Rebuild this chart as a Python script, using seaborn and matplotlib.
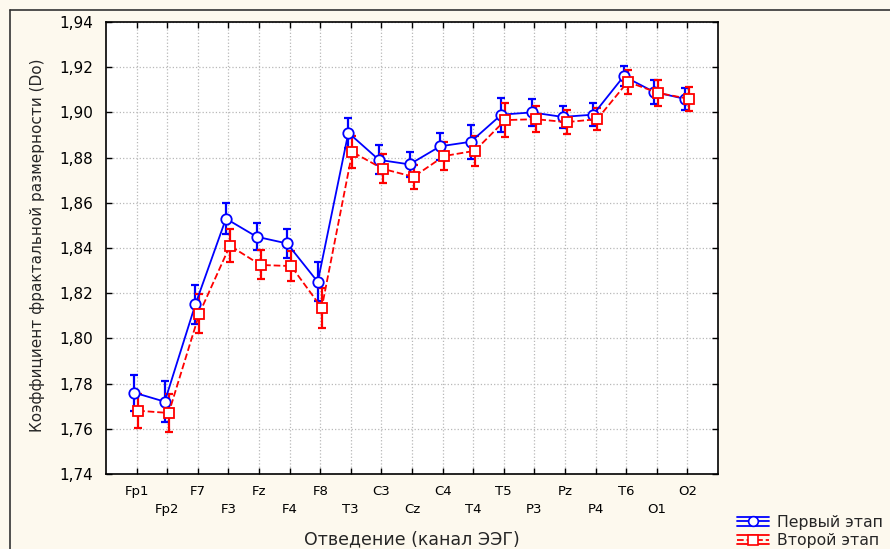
import numpy as np
import pandas as pd
import matplotlib
matplotlib.use("Agg")
import matplotlib.pyplot as plt
import seaborn as sns
from matplotlib.lines import Line2D
from matplotlib.legend_handler import HandlerBase

channels = ["Fp1", "Fp2", "F7", "F3", "Fz", "F4", "F8", "T3", "C3", "Cz",
            "C4", "T4", "T5", "P3", "Pz", "P4", "T6", "O1", "O2"]
stage1 = [1.776, 1.772, 1.815, 1.853, 1.845, 1.842, 1.825, 1.891, 1.879, 1.877,
          1.885, 1.887, 1.899, 1.900, 1.898, 1.899, 1.916, 1.909, 1.906]
stage1_err = [0.008, 0.009, 0.0085, 0.007, 0.006, 0.0066, 0.0086, 0.0066, 0.0064, 0.0055,
              0.006, 0.0075, 0.0075, 0.0058, 0.005, 0.005, 0.0045, 0.0055, 0.005]
stage2 = [1.768, 1.767, 1.811, 1.841, 1.8325, 1.832, 1.8135, 1.8825, 1.875, 1.8715,
          1.8807, 1.883, 1.8966, 1.897, 1.8957, 1.897, 1.9135, 1.9086, 1.906]
stage2_err = [0.0075, 0.0084, 0.0086, 0.0072, 0.0064, 0.0066, 0.0088, 0.007, 0.0064, 0.0054,
              0.0064, 0.0066, 0.0075, 0.0058, 0.0053, 0.005, 0.0053, 0.0057, 0.0053]
series_names = ["Первый этап", "Второй этап"]

sns.set_style("white")
plt.rcParams["font.family"] = ["DejaVu Sans"]

bg = "#fdf9ee"
fig = plt.figure(figsize=(8.9, 5.49), dpi=100, facecolor=bg)
ax = fig.add_axes([106/890, 1-474/549, (718-106)/890, (474-22)/549])
ax.set_facecolor("white")

idx = np.arange(len(channels))
df = pd.DataFrame({
    "x": np.concatenate([idx - 0.08, idx + 0.05]),
    "y": stage1 + stage2,
    "err": stage1_err + stage2_err,
    "series": [series_names[0]] * len(channels) + [series_names[1]] * len(channels),
})

styles = {
    series_names[0]: dict(color="#0000ff", marker="o", ls="-", ms=7.5),
    series_names[1]: dict(color="#ff0000", marker="s", ls="--", ms=7.5),
}


class ErrHandler(HandlerBase):
    def __init__(self, st):
        super().__init__()
        self.st = st

    def create_artists(self, legend, orig_handle, xdescent, ydescent, width, height,
                       fontsize, trans):
        c = self.st["color"]
        ym = height / 2 - ydescent
        dy = height * 0.42
        x0, x1 = -xdescent, width - xdescent
        xc = (x0 + x1) / 2
        arts = [
            Line2D([x0, x1], [ym + dy, ym + dy], color=c, lw=1.3),
            Line2D([x0, x1], [ym - dy, ym - dy], color=c, lw=1.3),
            Line2D([x0, x1], [ym, ym], color=c, lw=1.3, ls=self.st["ls"]),
            Line2D([xc, xc], [ym - dy, ym + dy], color=c, lw=1.3),
            Line2D([xc], [ym], marker=self.st["marker"], ms=7, mfc="white", mec=c,
                   mew=1.2, ls="none"),
        ]
        for a in arts:
            a.set_transform(trans)
        return arts


handles = []
for name in series_names:
    sub = df[df["series"] == name]
    st = styles[name]
    ax.errorbar(sub["x"], sub["y"], yerr=sub["err"], fmt="none",
                ecolor=st["color"], elinewidth=1.6, capsize=3, capthick=1.6, zorder=3)
    sns.lineplot(data=sub, x="x", y="y", ax=ax, color=st["color"], linestyle=st["ls"],
                 linewidth=1.3, marker=st["marker"], markersize=st["ms"],
                 markerfacecolor="white", markeredgecolor=st["color"], markeredgewidth=1.3,
                 zorder=4, legend=False, errorbar=None, sort=False)
    handles.append(Line2D([0], [0], color=st["color"]))

ax.set_xlim(-1, 19)
ax.set_ylim(1.74, 1.94)
yt = np.arange(1.74, 1.9401, 0.02)
ax.set_yticks(yt)
ax.set_yticklabels([f"{v:.2f}".replace(".", ",") for v in yt], fontsize=11)
ax.set_xticks(idx)
ax.set_xticklabels([c if i % 2 == 0 else "\n" + c for i, c in enumerate(channels)],
                   fontsize=9.5, linespacing=1.45)
ax.tick_params(axis="both", direction="in", length=4, width=1, colors="black",
               top=True, right=True, bottom=True, left=True)
ax.tick_params(axis="x", pad=8)
ax.tick_params(axis="y", pad=9)
ax.grid(True, color="#b8b8b8", linestyle=":", linewidth=0.9)
for sp in ax.spines.values():
    sp.set_visible(True)
    sp.set_color("black")
    sp.set_linewidth(1.2)

ax.set_xlabel("Отведение (канал ЭЭГ)", fontsize=12.5)
ax.xaxis.set_label_coords(0.5, -0.124)
ax.set_ylabel("Коэффициент фрактальной размерности (Do)", fontsize=11)
ax.yaxis.set_label_coords(-0.0997, 0.507)

fig.legend(handles, series_names, loc="lower left", bbox_to_anchor=(726/890, -10/549),
           frameon=False, fontsize=11.3, handlelength=2.05, borderaxespad=0.3,
           labelspacing=0.2, handletextpad=0.5,
           handler_map={handles[0]: ErrHandler(styles[series_names[0]]),
                        handles[1]: ErrHandler(styles[series_names[1]])})

fig.add_artist(Line2D([10/890, 10/890], [0, 1-10/549], color="#333333", lw=1.2,
                      transform=fig.transFigure))
fig.add_artist(Line2D([10/890, 1], [1-10/549, 1-10/549], color="#333333", lw=1.2,
                      transform=fig.transFigure))

fig.savefig("out.png", dpi=100, facecolor=bg)
